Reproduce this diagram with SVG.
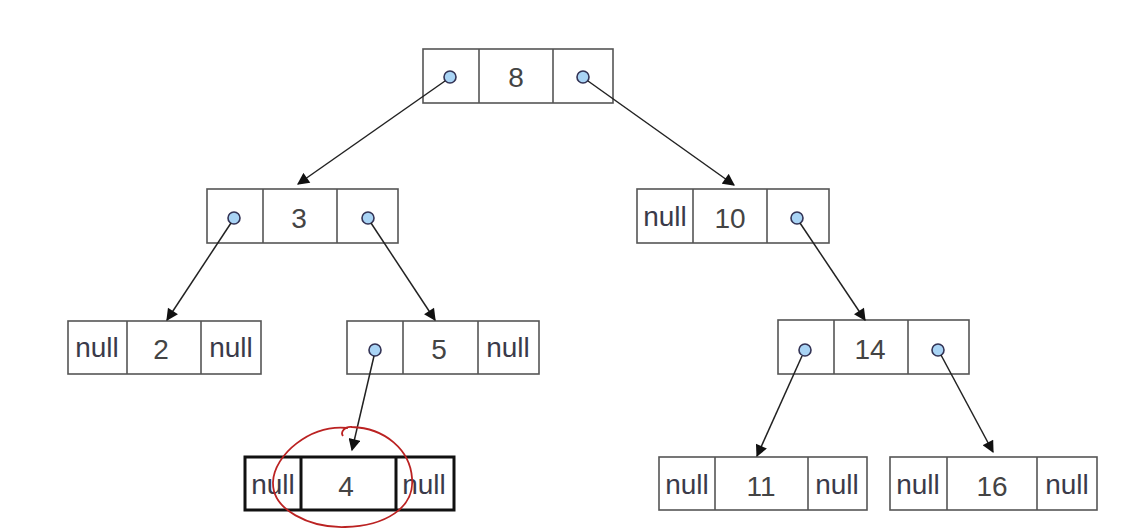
<svg xmlns="http://www.w3.org/2000/svg" width="1136" height="531" viewBox="0 0 1136 531">
<defs>
<marker id="ah" viewBox="0 0 10 10" refX="9" refY="5" markerWidth="13" markerHeight="12" markerUnits="userSpaceOnUse" orient="auto">
<path d="M0,0 L10,5 L0,10 Z" fill="#111"/>
</marker>
<style>
.box{fill:#fff;stroke:#555;stroke-width:1.6}
.bold{fill:#fff;stroke:#111;stroke-width:3}
.div{stroke:#555;stroke-width:1.6}
.divb{stroke:#111;stroke-width:3}
.num{font-family:"Liberation Sans",Arial,sans-serif;font-size:28px;fill:#444;text-anchor:middle}
.nul{font-family:"Liberation Sans",Arial,sans-serif;font-size:28px;fill:#3a3a4a;text-anchor:middle}
.dot{fill:#a9d4f5;stroke:#335;stroke-width:1.6}
.edge{stroke:#222;stroke-width:1.5;fill:none;marker-end:url(#ah)}
</style>
</defs>
<rect width="1136" height="531" fill="#fff"/>
<g id="n8">
<rect class="box" x="423" y="49" width="190" height="54"/>
<line class="div" x1="479" y1="49" x2="479" y2="103"/>
<line class="div" x1="553" y1="49" x2="553" y2="103"/>
<circle class="dot" cx="450" cy="77" r="6"/>
<text class="num" x="516" y="87">8</text>
<circle class="dot" cx="583" cy="77" r="6"/>
</g>
<g id="n3">
<rect class="box" x="207" y="189" width="191" height="54"/>
<line class="div" x1="263" y1="189" x2="263" y2="243"/>
<line class="div" x1="337" y1="189" x2="337" y2="243"/>
<circle class="dot" cx="234" cy="218" r="6"/>
<text class="num" x="299" y="228">3</text>
<circle class="dot" cx="368" cy="218" r="6"/>
</g>
<g id="n10">
<rect class="box" x="637" y="189" width="192" height="54"/>
<line class="div" x1="693" y1="189" x2="693" y2="243"/>
<line class="div" x1="767" y1="189" x2="767" y2="243"/>
<text class="nul" x="665" y="226">null</text>
<text class="num" x="730" y="228">10</text>
<circle class="dot" cx="797" cy="218" r="6"/>
</g>
<g id="n2">
<rect class="box" x="68" y="321" width="193" height="53"/>
<line class="div" x1="127" y1="321" x2="127" y2="374"/>
<line class="div" x1="201" y1="321" x2="201" y2="374"/>
<text class="nul" x="97" y="357">null</text>
<text class="num" x="161" y="359">2</text>
<text class="nul" x="231" y="357">null</text>
</g>
<g id="n5">
<rect class="box" x="347" y="321" width="192" height="53"/>
<line class="div" x1="403" y1="321" x2="403" y2="374"/>
<line class="div" x1="478" y1="321" x2="478" y2="374"/>
<circle class="dot" cx="375" cy="350" r="6"/>
<text class="num" x="439" y="359">5</text>
<text class="nul" x="508" y="357">null</text>
</g>
<g id="n14">
<rect class="box" x="778" y="320" width="191" height="54"/>
<line class="div" x1="834" y1="320" x2="834" y2="374"/>
<line class="div" x1="908" y1="320" x2="908" y2="374"/>
<circle class="dot" cx="805" cy="350" r="6"/>
<text class="num" x="870" y="359">14</text>
<circle class="dot" cx="938" cy="350" r="6"/>
</g>
<g id="n4">
<rect class="bold" x="245" y="457" width="209" height="53"/>
<line class="divb" x1="301" y1="457" x2="301" y2="510"/>
<line class="divb" x1="396" y1="457" x2="396" y2="510"/>
<text class="nul" x="273" y="494">null</text>
<text class="num" x="346" y="496">4</text>
<text class="nul" x="424" y="494">null</text>
</g>
<g id="n11">
<rect class="box" x="659" y="457" width="208" height="53"/>
<line class="div" x1="715" y1="457" x2="715" y2="510"/>
<line class="div" x1="808" y1="457" x2="808" y2="510"/>
<text class="nul" x="687" y="494">null</text>
<text class="num" x="761" y="496">11</text>
<text class="nul" x="837" y="494">null</text>
</g>
<g id="n16">
<rect class="box" x="890" y="457" width="207" height="53"/>
<line class="div" x1="947" y1="457" x2="947" y2="510"/>
<line class="div" x1="1037" y1="457" x2="1037" y2="510"/>
<text class="nul" x="918" y="494">null</text>
<text class="num" x="992" y="496">16</text>
<text class="nul" x="1067" y="494">null</text>
</g>
<g id="connectors">
<line class="edge" x1="445" y1="81" x2="298" y2="184"/>
<line class="edge" x1="588" y1="81" x2="734" y2="185"/>
<line class="edge" x1="231" y1="223" x2="167" y2="320"/>
<line class="edge" x1="371" y1="223" x2="435" y2="320"/>
<line class="edge" x1="800" y1="223" x2="865" y2="320"/>
<line class="edge" x1="374" y1="356" x2="352" y2="450"/>
<line class="edge" x1="802" y1="356" x2="757" y2="456"/>
<line class="edge" x1="941" y1="355" x2="993" y2="452"/>
</g>
<path id="mark" d="M348,428 C310,424 274,455 273,482 C272,510 310,528 345,527 C385,526 415,508 412,478 C410,450 385,428 352,427 C345,426 340,432 343,436" fill="none" stroke="#b22" stroke-width="1.8"/>
</svg>
